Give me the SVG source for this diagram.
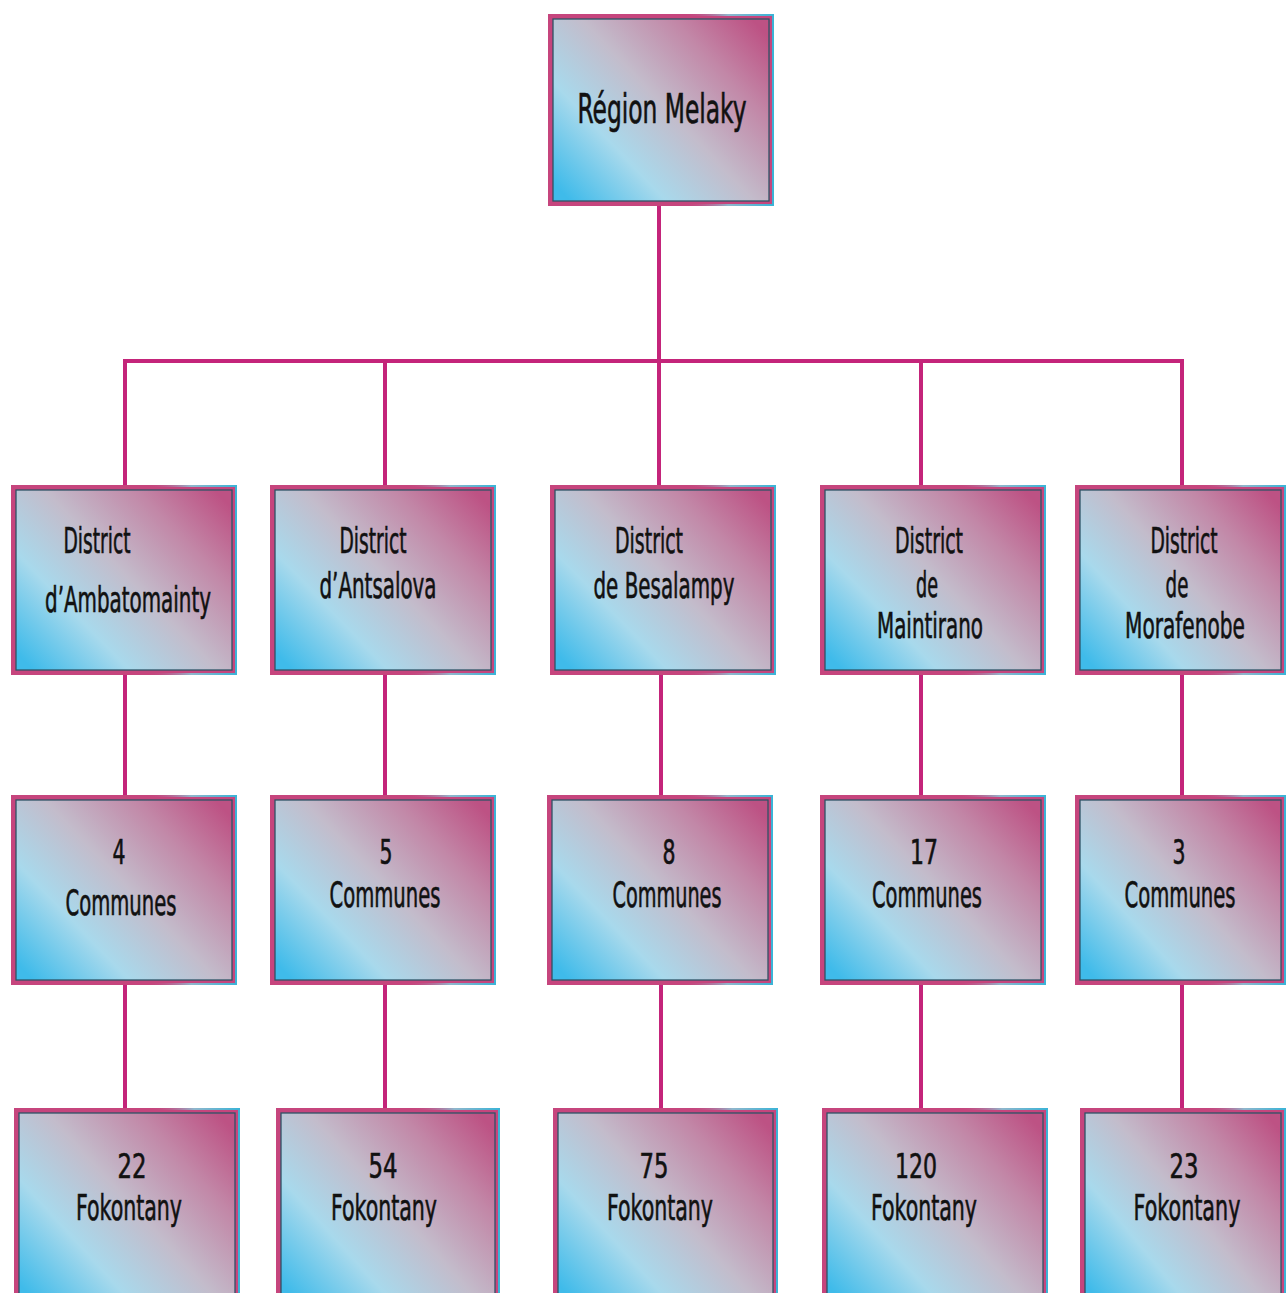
<svg xmlns="http://www.w3.org/2000/svg" width="1286" height="1293" viewBox="0 0 1286 1293">
<defs>
<linearGradient id="fillG" x1="0" y1="0.9" x2="1" y2="0.1">
<stop offset="0" stop-color="#3fbbea"/>
<stop offset="0.27" stop-color="#a8d9ec"/>
<stop offset="0.52" stop-color="#c3bccb"/>
<stop offset="0.78" stop-color="#c287a7"/>
<stop offset="1" stop-color="#bd5284"/>
</linearGradient>
<linearGradient id="edgeG" x1="0" y1="0" x2="1" y2="0">
<stop offset="0" stop-color="#c6457d" stop-opacity="0"/>
<stop offset="0.6" stop-color="#c6457d" stop-opacity="0"/>
<stop offset="0.8" stop-color="#8fb6cc"/>
<stop offset="1" stop-color="#3bb3d6"/>
</linearGradient>
<style>
.outer{fill:#c6457d}
.edge{fill:none;stroke:url(#edgeG);stroke-width:2}
.inner{fill:url(#fillG);stroke:#2e5366;stroke-width:1.3}
.t{font-family:"DejaVu Sans Condensed","DejaVu Sans",sans-serif;font-stretch:condensed;fill:#111;stroke:#111;stroke-width:0.6;text-anchor:middle}
.big{font-size:40px}
.mid{font-size:35px}
.num{font-size:34px}
.con{stroke:#c4247a;stroke-width:4;fill:none}
</style>
</defs>

<g id="connectors">
<line class="con" x1="659" y1="206" x2="659" y2="361"/>
<line class="con" x1="123" y1="361" x2="1184" y2="361"/>
<line class="con" x1="125" y1="361" x2="125" y2="485"/>
<line class="con" x1="385" y1="361" x2="385" y2="485"/>
<line class="con" x1="659" y1="361" x2="659" y2="485"/>
<line class="con" x1="921" y1="361" x2="921" y2="485"/>
<line class="con" x1="1182" y1="361" x2="1182" y2="485"/>
<line class="con" x1="125" y1="675" x2="125" y2="795"/>
<line class="con" x1="385" y1="675" x2="385" y2="795"/>
<line class="con" x1="661" y1="675" x2="661" y2="795"/>
<line class="con" x1="921" y1="675" x2="921" y2="795"/>
<line class="con" x1="1182" y1="675" x2="1182" y2="795"/>
<line class="con" x1="125" y1="985" x2="125" y2="1108"/>
<line class="con" x1="385" y1="985" x2="385" y2="1108"/>
<line class="con" x1="661" y1="985" x2="661" y2="1108"/>
<line class="con" x1="921" y1="985" x2="921" y2="1108"/>
<line class="con" x1="1182" y1="985" x2="1182" y2="1108"/>
</g>

<g id="region">
<rect class="outer" x="548" y="14" width="226" height="192"/>
<rect class="edge" x="549" y="15" width="224" height="190"/>
<rect class="inner" x="553" y="19" width="216" height="182"/>
<text class="t big" x="662" y="123" textLength="169" lengthAdjust="spacingAndGlyphs">Région Melaky</text>
</g>

<g id="d1">
<rect class="outer" x="11" y="485" width="226" height="190"/>
<rect class="edge" x="12" y="486" width="224" height="188"/>
<rect class="inner" x="16" y="490" width="216" height="180"/>
<text class="t mid" x="97" y="553" textLength="67" lengthAdjust="spacingAndGlyphs">District</text>
<text class="t mid" x="128" y="612" textLength="166" lengthAdjust="spacingAndGlyphs">d’Ambatomainty</text>
</g>
<g id="d2">
<rect class="outer" x="270" y="485" width="226" height="190"/>
<rect class="edge" x="271" y="486" width="224" height="188"/>
<rect class="inner" x="275" y="490" width="216" height="180"/>
<text class="t mid" x="373" y="553" textLength="67" lengthAdjust="spacingAndGlyphs">District</text>
<text class="t mid" x="378" y="598" textLength="117" lengthAdjust="spacingAndGlyphs">d’Antsalova</text>
</g>
<g id="d3">
<rect class="outer" x="550" y="485" width="226" height="190"/>
<rect class="edge" x="551" y="486" width="224" height="188"/>
<rect class="inner" x="555" y="490" width="216" height="180"/>
<text class="t mid" x="649" y="553" textLength="68" lengthAdjust="spacingAndGlyphs">District</text>
<text class="t mid" x="664" y="598" textLength="141" lengthAdjust="spacingAndGlyphs">de Besalampy</text>
</g>
<g id="d4">
<rect class="outer" x="820" y="485" width="226" height="190"/>
<rect class="edge" x="821" y="486" width="224" height="188"/>
<rect class="inner" x="825" y="490" width="216" height="180"/>
<text class="t mid" x="929" y="553" textLength="68" lengthAdjust="spacingAndGlyphs">District</text>
<text class="t mid" x="927" y="597" textLength="22" lengthAdjust="spacingAndGlyphs">de</text>
<text class="t mid" x="930" y="638" textLength="106" lengthAdjust="spacingAndGlyphs">Maintirano</text>
</g>
<g id="d5">
<rect class="outer" x="1075" y="485" width="211" height="190"/>
<rect class="edge" x="1076" y="486" width="209" height="188"/>
<rect class="inner" x="1080" y="490" width="201" height="180"/>
<text class="t mid" transform="translate(1184 553) scale(0.6 1)" x="0" y="0" textLength="112" lengthAdjust="spacingAndGlyphs">District</text>
<text class="t mid" transform="translate(1177 597) scale(0.6 1)" x="0" y="0" textLength="38" lengthAdjust="spacingAndGlyphs">de</text>
<text class="t mid" transform="translate(1185 638) scale(0.6 1)" x="0" y="0" textLength="200" lengthAdjust="spacingAndGlyphs">Morafenobe</text>
</g>

<g id="c1">
<rect class="outer" x="11" y="795" width="226" height="190"/>
<rect class="edge" x="12" y="796" width="224" height="188"/>
<rect class="inner" x="16" y="800" width="216" height="180"/>
<text class="t num" x="119" y="864" textLength="13" lengthAdjust="spacingAndGlyphs">4</text>
<text class="t mid" x="121" y="915" textLength="111" lengthAdjust="spacingAndGlyphs">Communes</text>
</g>
<g id="c2">
<rect class="outer" x="270" y="795" width="226" height="190"/>
<rect class="edge" x="271" y="796" width="224" height="188"/>
<rect class="inner" x="275" y="800" width="216" height="180"/>
<text class="t num" x="386" y="864" textLength="13" lengthAdjust="spacingAndGlyphs">5</text>
<text class="t mid" x="385" y="907" textLength="111" lengthAdjust="spacingAndGlyphs">Communes</text>
</g>
<g id="c3">
<rect class="outer" x="547" y="795" width="226" height="190"/>
<rect class="edge" x="548" y="796" width="224" height="188"/>
<rect class="inner" x="552" y="800" width="216" height="180"/>
<text class="t num" x="669" y="864" textLength="13" lengthAdjust="spacingAndGlyphs">8</text>
<text class="t mid" x="667" y="907" textLength="109" lengthAdjust="spacingAndGlyphs">Communes</text>
</g>
<g id="c4">
<rect class="outer" x="820" y="795" width="226" height="190"/>
<rect class="edge" x="821" y="796" width="224" height="188"/>
<rect class="inner" x="825" y="800" width="216" height="180"/>
<text class="t num" x="924" y="864" textLength="28" lengthAdjust="spacingAndGlyphs">17</text>
<text class="t mid" x="927" y="907" textLength="110" lengthAdjust="spacingAndGlyphs">Communes</text>
</g>
<g id="c5">
<rect class="outer" x="1075" y="795" width="211" height="190"/>
<rect class="edge" x="1076" y="796" width="209" height="188"/>
<rect class="inner" x="1080" y="800" width="201" height="180"/>
<text class="t num" x="1179" y="864" textLength="13" lengthAdjust="spacingAndGlyphs">3</text>
<text class="t mid" transform="translate(1180 907) scale(0.6 1)" x="0" y="0" textLength="185" lengthAdjust="spacingAndGlyphs">Communes</text>
</g>

<g id="f1">
<rect class="outer" x="14" y="1108" width="226" height="200"/>
<rect class="edge" x="15" y="1109" width="224" height="198"/>
<rect class="inner" x="19" y="1113" width="216" height="190"/>
<text class="t num" x="132" y="1178" textLength="29" lengthAdjust="spacingAndGlyphs">22</text>
<text class="t mid" x="129" y="1220" textLength="106" lengthAdjust="spacingAndGlyphs">Fokontany</text>
</g>
<g id="f2">
<rect class="outer" x="276" y="1108" width="224" height="200"/>
<rect class="edge" x="277" y="1109" width="222" height="198"/>
<rect class="inner" x="281" y="1113" width="214" height="190"/>
<text class="t num" x="383" y="1178" textLength="29" lengthAdjust="spacingAndGlyphs">54</text>
<text class="t mid" x="384" y="1220" textLength="106" lengthAdjust="spacingAndGlyphs">Fokontany</text>
</g>
<g id="f3">
<rect class="outer" x="553" y="1108" width="225" height="200"/>
<rect class="edge" x="554" y="1109" width="223" height="198"/>
<rect class="inner" x="558" y="1113" width="215" height="190"/>
<text class="t num" x="654" y="1178" textLength="29" lengthAdjust="spacingAndGlyphs">75</text>
<text class="t mid" x="660" y="1220" textLength="106" lengthAdjust="spacingAndGlyphs">Fokontany</text>
</g>
<g id="f4">
<rect class="outer" x="822" y="1108" width="226" height="200"/>
<rect class="edge" x="823" y="1109" width="224" height="198"/>
<rect class="inner" x="827" y="1113" width="216" height="190"/>
<text class="t num" x="916" y="1178" textLength="42" lengthAdjust="spacingAndGlyphs">120</text>
<text class="t mid" x="924" y="1220" textLength="106" lengthAdjust="spacingAndGlyphs">Fokontany</text>
</g>
<g id="f5">
<rect class="outer" x="1080" y="1108" width="206" height="200"/>
<rect class="edge" x="1081" y="1109" width="204" height="198"/>
<rect class="inner" x="1085" y="1113" width="196" height="190"/>
<text class="t num" x="1184" y="1178" textLength="29" lengthAdjust="spacingAndGlyphs">23</text>
<text class="t mid" transform="translate(1187 1220) scale(0.6 1)" x="0" y="0" textLength="178" lengthAdjust="spacingAndGlyphs">Fokontany</text>
</g>
</svg>
